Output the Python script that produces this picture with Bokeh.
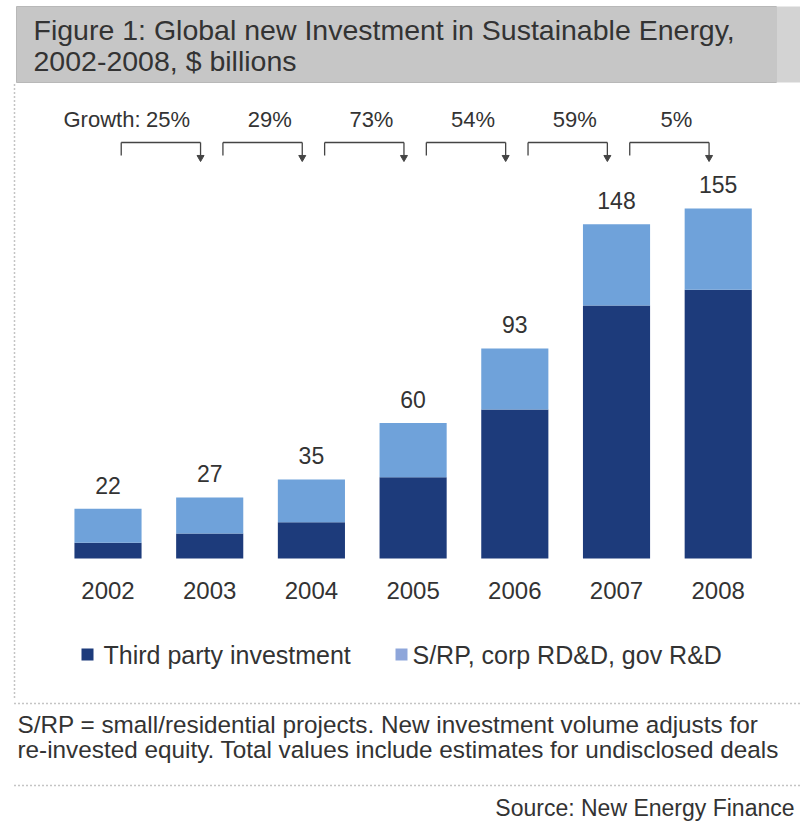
from bokeh.plotting import figure
from bokeh.models import Range1d, ColumnDataSource
from bokeh.core.properties import value
from bokeh.embed import file_html
from bokeh.resources import INLINE

# ---------------- data ----------------
years = ["2002", "2003", "2004", "2005", "2006", "2007", "2008"]
totals = [22, 27, 35, 60, 93, 148, 155]
third_party = [7, 11, 16, 36, 66, 112, 119]
other = [t - d for t, d in zip(totals, third_party)]
growth = ["25%", "29%", "73%", "54%", "59%", "5%"]
series_names = ["Third party investment", "S/RP, corp RD&D, gov R&D"]

title_lines = ["Figure 1: Global new Investment in Sustainable Energy,",
               "2002-2008, $ billions"]
note_lines = ["S/RP = small/residential projects. New investment volume adjusts for",
              "re-invested equity. Total values include estimates for undisclosed deals"]
source_text = "Source: New Energy Finance"

# ---------------- style ----------------
W, H = 800, 821
FONT = value("Liberation Sans")
TXT = "#333333"
DARK = "#1d3b7b"
LIGHT = "#6fa2da"
LEG_LIGHT = "#8ea6da"
DOT = "#8a8a8a"

idx = list(range(len(years)))

p = figure(width=W, height=H, output_backend="svg", toolbar_location=None,
           x_range=Range1d(-1.057, 6.809), y_range=Range1d(-116.5, 247.1),
           x_axis_location=None, y_axis_location=None, min_border=0,
           outline_line_color=None, background_fill_color="white",
           border_fill_color="white")
p.grid.visible = False
p.extra_x_ranges = {"px": Range1d(0, W)}
p.extra_y_ranges = {"py": Range1d(H, 0)}

# title band
p.quad(left=[16], right=[776], top=[6], bottom=[82], fill_color="#c6c6c6",
       line_color="#b8b8b8", x_range_name="px", y_range_name="py")
p.quad(left=[776], right=[W], top=[6], bottom=[82], fill_color="#d3d3d3",
       line_color=None, x_range_name="px", y_range_name="py")
p.text(x=[33, 33], y=[29, 60], text=title_lines, text_font=FONT,
       text_font_size=value("28.5px"), text_color=TXT, text_baseline="middle",
       x_range_name="px", y_range_name="py")

# dotted frame lines
p.segment(x0=[14, 14, 14], y0=[84, 703, 785], x1=[14, W, W], y1=[700, 703, 785],
          line_color=DOT, line_dash="1 3", line_width=1.5,
          x_range_name="px", y_range_name="py")

# stacked bars
src = ColumnDataSource(dict(x=idx, third=third_party, other=other, total=totals,
                            label=[str(t) for t in totals], year=years,
                            ylab=[590] * len(years)))
p.vbar_stack(["third", "other"], x="x", width=0.66, color=[DARK, LIGHT],
             line_color=None, source=src)

# totals above bars
p.text(x="x", y="total", text="label", source=src, text_font=FONT,
       text_font_size=value("23px"), text_color=TXT, text_align="center",
       text_baseline="bottom", y_offset=-15)

# year labels
p.text(x="x", y="ylab", text="year", source=src, text_font=FONT,
       text_font_size=value("24px"), text_color=TXT, text_align="center",
       text_baseline="middle", y_range_name="py")

# growth brackets
gi = list(range(len(growth)))
bl = [i + 0.13 for i in gi]
br = [i + 0.91 for i in gi]
p.segment(x0=bl, y0=[142] * 6, x1=br, y1=[142] * 6, line_color="#444444",
          line_width=1.3, y_range_name="py")
p.segment(x0=bl, y0=[142] * 6, x1=bl, y1=[155] * 6, line_color="#444444",
          line_width=1.3, y_range_name="py")
p.segment(x0=br, y0=[142] * 6, x1=br, y1=[155] * 6, line_color="#444444",
          line_width=1.3, y_range_name="py")
p.scatter(x=br, y=[157] * 6, marker="inverted_triangle", size=7,
          fill_color="#444444", line_color="#444444", y_range_name="py")
p.text(x=[i + 0.59 for i in gi], y=[119] * 6, text=growth, text_font=FONT,
       text_font_size=value("22px"), text_color=TXT, text_align="center",
       text_baseline="middle", y_range_name="py")
p.text(x=[140], y=[119], text=["Growth:"], text_font=FONT,
       text_font_size=value("22px"), text_color=TXT, text_align="right",
       text_baseline="middle", x_range_name="px", y_range_name="py")

# legend
p.rect(x=[87, 401], y=[654, 654], width=12, height=12,
       fill_color=[DARK, LEG_LIGHT], line_color=None,
       x_range_name="px", y_range_name="py")
p.text(x=[103, 412], y=[654, 654], text=series_names, text_font=FONT,
       text_font_size=value("25px"), text_color=TXT, text_baseline="middle",
       x_range_name="px", y_range_name="py")

# footnote and source
p.text(x=[17, 17], y=[724, 749], text=note_lines, text_font=FONT,
       text_font_size=value("24.3px"), text_color=TXT, text_baseline="middle",
       x_range_name="px", y_range_name="py")
p.text(x=[W - 6], y=[807], text=[source_text], text_font=FONT,
       text_font_size=value("23px"), text_color=TXT, text_baseline="middle",
       text_align="right", x_range_name="px", y_range_name="py")

open("out.html", "w").write(file_html(p, INLINE))
